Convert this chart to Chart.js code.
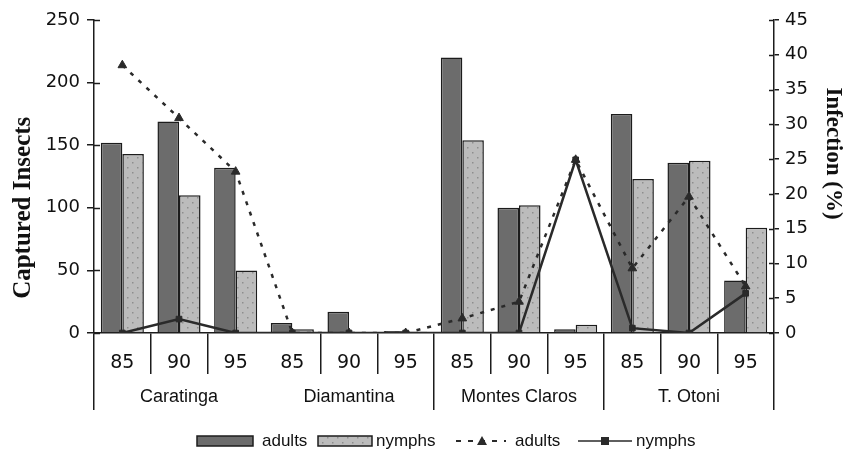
<!DOCTYPE html>
<html>
<head>
<meta charset="utf-8">
<script src="https://cdn.jsdelivr.net/npm/chart.js@4.4.1/dist/chart.umd.min.js"></script>
<style>
  html, body { margin: 0; padding: 0; background: #ffffff; }
  #wrap { width: 843px; height: 454px; }
</style>
</head>
<body>
<div id="wrap"><canvas id="c" width="843" height="454"></canvas></div>
<script>
// ---- data ----
const years = ['85', '90', '95', '85', '90', '95', '85', '90', '95', '85', '90', '95'];
const regions = ['Caratinga', 'Diamantina', 'Montes Claros', 'T. Otoni'];
const adultsCaptured = [152, 169, 132, 8, 17, 1.5, 220, 100, 3, 175, 136, 42];
const nymphsCaptured = [143, 110, 50, 3, 0, 1, 154, 102, 6.5, 123, 137.5, 84];
const adultsInfection = [38.5, 30.9, 23.2, 0, 0, 0, 2.1, 4.5, 24.9, 9.3, 19.6, 6.7];
const nymphsInfection = [0, 2.0, 0, 0, 0, 0, 0, 0, 24.9, 0.7, 0, 5.7];
const leftTicks = { min: 0, max: 250, step: 50 };
const rightTicks = { min: 0, max: 45, step: 5 };
const legendLabels = ['adults', 'nymphs', 'adults', 'nymphs'];

// ---- styles ----
const INK = '#1c1c1c';
const ADULT_FILL = '#6c6c6c';
const NYMPH_FILL = '#bcbcbc';
const SANS = '"Liberation Sans", Arial, Helvetica, sans-serif';
const WIDE = '"DejaVu Sans", Verdana, sans-serif';
const SERIF = '"Liberation Serif", "Times New Roman", Times, serif';

function makeDotPattern() {
  const p = document.createElement('canvas');
  p.width = 10; p.height = 10;
  const g = p.getContext('2d');
  g.fillStyle = NYMPH_FILL;
  g.fillRect(0, 0, 10, 10);
  g.fillStyle = '#8e8e8e';
  g.fillRect(2, 2, 1.5, 1.5);
  g.fillRect(7, 7, 1.5, 1.5);
  return g.createPattern(p, 'repeat');
}
const nymphPattern = makeDotPattern();

// inner half of the y-axis tick marks (ticks cross the axis line)
const innerTicks = {
  id: 'innerTicks',
  afterDraw(chart) {
    const ctx = chart.ctx;
    ctx.save();
    ctx.strokeStyle = INK;
    ctx.lineWidth = 1.5;
    const y = chart.scales.y, y1 = chart.scales.y1;
    y.ticks.forEach((t, i) => {
      const py = Math.round(y.getPixelForTick(i)) + 0.5;
      ctx.beginPath(); ctx.moveTo(y.right, py); ctx.lineTo(y.right + 6, py); ctx.stroke();
    });
    y1.ticks.forEach((t, i) => {
      const py = Math.round(y1.getPixelForTick(i)) + 0.5;
      ctx.beginPath(); ctx.moveTo(y1.left - 5, py); ctx.lineTo(y1.left, py); ctx.stroke();
    });
    ctx.restore();
  }
};

// legend drawn beneath the chart: two bar swatches, two line swatches with markers
const customLegend = {
  id: 'customLegend',
  afterDraw(chart) {
    const ctx = chart.ctx;
    const ds = chart.data.datasets;
    const cy = 441;
    ctx.save();
    ctx.font = '17px ' + SANS;
    ctx.textBaseline = 'middle';
    ctx.textAlign = 'left';
    // bar adults
    ctx.fillStyle = ds[0].backgroundColor;
    ctx.fillRect(197, cy - 5, 56, 10);
    ctx.strokeStyle = INK; ctx.lineWidth = 1.5;
    ctx.strokeRect(197, cy - 5, 56, 10);
    ctx.fillStyle = '#111';
    ctx.fillText(legendLabels[0], 262, cy);
    // bar nymphs
    ctx.fillStyle = ds[1].backgroundColor;
    ctx.fillRect(318, cy - 5, 54, 10);
    ctx.strokeRect(318, cy - 5, 54, 10);
    ctx.fillStyle = '#111';
    ctx.fillText(legendLabels[1], 376, cy);
    // line adults (dashed + triangle)
    ctx.strokeStyle = ds[2].borderColor; ctx.lineWidth = 2;
    ctx.setLineDash([5, 7]);
    ctx.beginPath(); ctx.moveTo(456, cy); ctx.lineTo(506, cy); ctx.stroke();
    ctx.setLineDash([]);
    ctx.fillStyle = ds[2].borderColor;
    ctx.beginPath(); ctx.moveTo(482, cy - 5); ctx.lineTo(487, cy + 4); ctx.lineTo(477, cy + 4); ctx.closePath(); ctx.fill();
    ctx.fillStyle = '#111';
    ctx.fillText(legendLabels[2], 515, cy);
    // line nymphs (solid + square)
    ctx.strokeStyle = ds[3].borderColor; ctx.lineWidth = 1.5;
    ctx.beginPath(); ctx.moveTo(578, cy); ctx.lineTo(632, cy); ctx.stroke();
    ctx.fillStyle = ds[3].borderColor;
    ctx.fillRect(601, cy - 4, 8, 8);
    ctx.fillStyle = '#111';
    ctx.fillText(legendLabels[3], 636, cy);
    ctx.restore();
  }
};

new Chart(document.getElementById('c'), {
  data: {
    labels: years,
    datasets: [
      {
        type: 'bar', label: 'adults', data: adultsCaptured, yAxisID: 'y', order: 2,
        backgroundColor: ADULT_FILL, borderColor: INK, borderWidth: 1.5,
        categoryPercentage: 0.76, barPercentage: 1.0
      },
      {
        type: 'bar', label: 'nymphs', data: nymphsCaptured, yAxisID: 'y', order: 2,
        backgroundColor: nymphPattern, borderColor: INK, borderWidth: 1.5,
        categoryPercentage: 0.76, barPercentage: 1.0
      },
      {
        type: 'line', label: 'adults', data: adultsInfection, yAxisID: 'y1', order: 0,
        borderColor: '#2a2a2a', borderWidth: 2.5, borderDash: [4, 7], tension: 0, fill: false,
        pointStyle: 'triangle', pointRadius: 5, pointBackgroundColor: '#2a2a2a', pointBorderColor: '#2a2a2a', pointBorderWidth: 1
      },
      {
        type: 'line', label: 'nymphs', data: nymphsInfection, yAxisID: 'y1', order: 1,
        borderColor: '#2a2a2a', borderWidth: 2.5, tension: 0, fill: false,
        pointStyle: 'rect', pointRadius: 4, pointBackgroundColor: '#2a2a2a', pointBorderColor: '#2a2a2a', pointBorderWidth: 1
      }
    ]
  },
  options: {
    responsive: false,
    animation: false,
    devicePixelRatio: 1,
    layout: { padding: { top: 20, bottom: 44, left: 0, right: 0 } },
    plugins: { legend: { display: false }, tooltip: { enabled: false } },
    scales: {
      x: {
        type: 'category', position: 'bottom', weight: 0, offset: true,
        grid: {
          offset: true, drawOnChartArea: false, drawTicks: true, tickLength: 41,
          lineWidth: 1.5, color: (c) => (c.index === 3 ? 'rgba(0,0,0,0)' : INK)
        },
        border: { display: true, color: INK, width: 1.5 },
        ticks: { font: { family: WIDE, size: 19 }, color: '#111', padding: -22, maxRotation: 0, autoSkip: false },
        afterFit: (s) => { s.height = 41; }
      },
      x2: {
        type: 'category', axis: 'x', position: 'bottom', weight: 1, offset: true,
        labels: regions,
        grid: {
          offset: true, drawOnChartArea: false, drawTicks: true, tickLength: 36,
          lineWidth: 1.5, color: (c) => (c.index === 1 ? 'rgba(0,0,0,0)' : INK)
        },
        border: { display: false },
        ticks: { font: { family: SANS, size: 18 }, color: '#111', padding: -24, maxRotation: 0, autoSkip: false },
        afterFit: (s) => { s.height = 36; }
      },
      y: {
        type: 'linear', position: 'left', min: leftTicks.min, max: leftTicks.max,
        ticks: { stepSize: leftTicks.step, font: { family: WIDE, size: 18 }, color: '#111', padding: 7 },
        grid: { drawOnChartArea: false, drawTicks: true, tickLength: 7, lineWidth: 1.5, color: INK },
        border: { display: true, color: INK, width: 1.5 },
        title: {
          display: true, text: 'Captured Insects' + '\u00a0'.repeat(10),
          font: { family: SERIF, size: 25, weight: 'bold' }, color: '#111', padding: { top: 9, bottom: 0 }
        },
        afterFit: (s) => { s.width = 94; }
      },
      y1: {
        type: 'linear', position: 'right', min: rightTicks.min, max: rightTicks.max,
        ticks: { stepSize: rightTicks.step, font: { family: WIDE, size: 18 }, color: '#111', padding: 6 },
        grid: { drawOnChartArea: false, drawTicks: true, tickLength: 5, lineWidth: 1.5, color: INK },
        border: { display: true, color: INK, width: 1.5 },
        title: {
          display: true, text: 'Infection (%)' + '\u00a0'.repeat(8),
          font: { family: SERIF, size: 23, weight: 'bold' }, color: '#111', padding: { top: -4, bottom: 0 }
        },
        afterFit: (s) => { s.width = 69; }
      }
    }
  },
  plugins: [innerTicks, customLegend]
});
</script>
</body>
</html>
